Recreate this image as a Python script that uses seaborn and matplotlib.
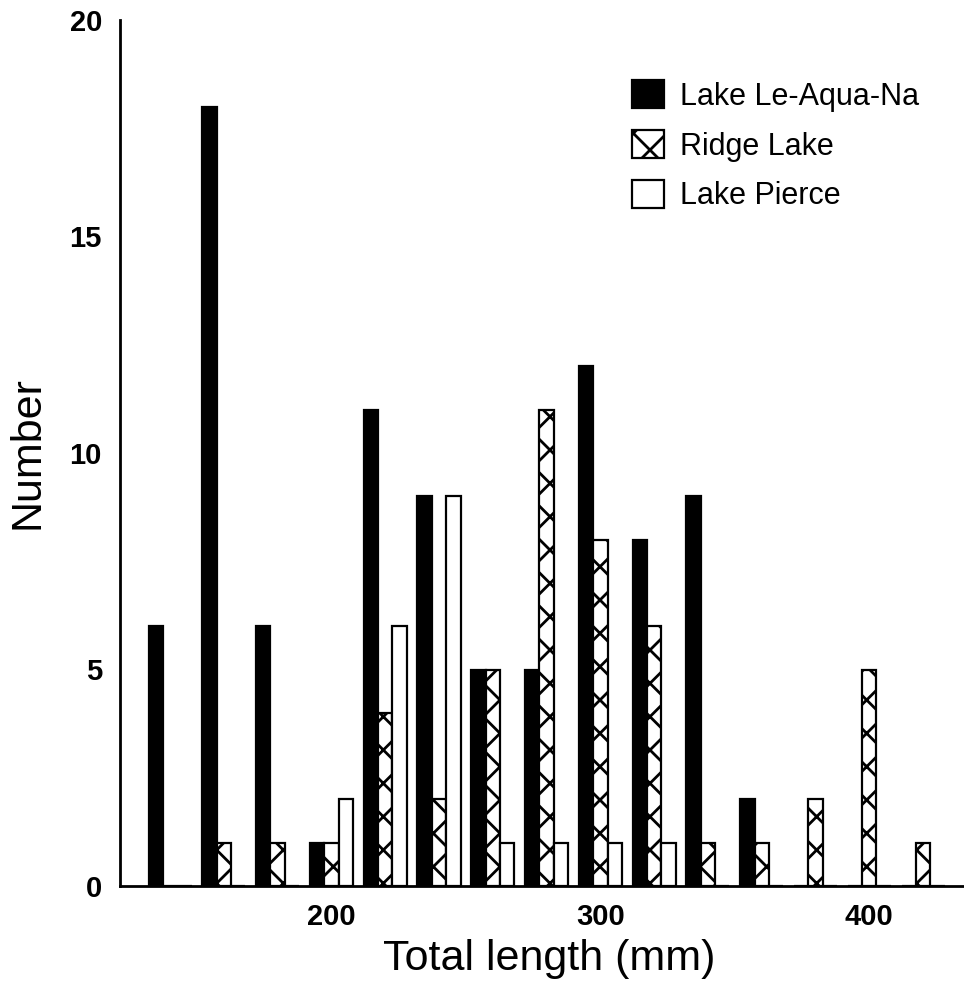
import numpy as np
import pandas as pd
import matplotlib
matplotlib.use("Agg")
import matplotlib.pyplot as plt
from matplotlib.patches import Patch
import seaborn as sns

# ---- data ----
lengths = [140, 160, 180, 200, 220, 240, 260, 280, 300, 320, 340, 360, 380, 400, 420]
le_aqua_na = [6, 18, 6, 1, 11, 9, 5, 5, 12, 8, 9, 2, 0, 0, 0]
ridge_lake = [0, 1, 1, 1, 4, 2, 5, 11, 8, 6, 1, 1, 2, 5, 1]
lake_pierce = [0, 0, 0, 2, 6, 9, 1, 1, 1, 1, 0, 0, 0, 0, 0]
series_names = ["Lake Le-Aqua-Na", "Ridge Lake", "Lake Pierce"]
x_tick_labels = ["200", "300", "400"]
y_ticks = [0, 5, 10, 15, 20]

df = pd.DataFrame({
    "length": lengths * 3,
    "count": le_aqua_na + ridge_lake + lake_pierce,
    "lake": [series_names[0]] * len(lengths) + [series_names[1]] * len(lengths)
            + [series_names[2]] * len(lengths),
})

sns.set_theme(style="white")
plt.rcParams["font.family"] = ["Liberation Sans", "DejaVu Sans"]
plt.rcParams["text.color"] = "black"
plt.rcParams["hatch.linewidth"] = 2.0
plt.rcParams["hatch.color"] = "black"

fig = plt.figure(figsize=(9.64, 9.93), dpi=100)
ax = fig.add_axes([120 / 964, 1 - 886 / 993, 1 - 120 / 964, (886 - 20) / 993])

palette = {series_names[0]: "black", series_names[1]: "white", series_names[2]: "white"}
sns.barplot(data=df, x="length", y="count", hue="lake", order=lengths,
            hue_order=series_names, palette=palette, width=0.8,
            edgecolor="black", linewidth=1.6, saturation=1, ax=ax, legend=False)

hatches = [None, "x", None]
for cont, h in zip(ax.containers, hatches):
    for p in cont:
        if h:
            p.set_hatch(h)

ax.set_xlim(-0.93, 14.76)
ax.set_ylim(0, 20)
idx = [lengths.index(int(t)) for t in x_tick_labels]
ax.set_xticks(idx)
ax.set_xticklabels(x_tick_labels)
ax.set_yticks(y_ticks)
ax.set_yticklabels([str(v) for v in y_ticks])
ax.tick_params(axis="both", length=0, labelsize=21, colors="black")
ax.tick_params(axis="y", pad=13)
ax.tick_params(axis="x", pad=12)
for lbl in ax.get_xticklabels() + ax.get_yticklabels():
    lbl.set_fontweight("bold")

for s in ["top", "right"]:
    ax.spines[s].set_visible(False)
for s in ["left", "bottom"]:
    ax.spines[s].set_color("black")
    ax.spines[s].set_linewidth(2)

ax.set_xlabel("Total length (mm)", fontsize=31, color="black")
ax.set_ylabel("Number", fontsize=31, color="black")
ax.xaxis.set_label_coords((549 - 120) / 844, (886 - 970) / 866)
ax.xaxis.label.set_verticalalignment("baseline")
ax.yaxis.set_label_coords((27 - 120) / 844, (886 - 453) / 866)
ax.yaxis.label.set_verticalalignment("center")
ax.yaxis.label.set_horizontalalignment("center")

handles = [
    Patch(facecolor="black", edgecolor="black", linewidth=1.6),
    Patch(facecolor="white", edgecolor="black", hatch="x", linewidth=1.6),
    Patch(facecolor="white", edgecolor="black", linewidth=1.6),
]
fig.legend(handles, series_names, loc="upper left",
           bbox_to_anchor=(632 / 964, 1 - 80 / 993), frameon=False,
           fontsize=22, labelcolor="black", handlelength=1.05, handleheight=1.05,
           handletextpad=0.52, labelspacing=0.6, borderpad=0, borderaxespad=0)

fig.savefig("out.png", dpi=100)
